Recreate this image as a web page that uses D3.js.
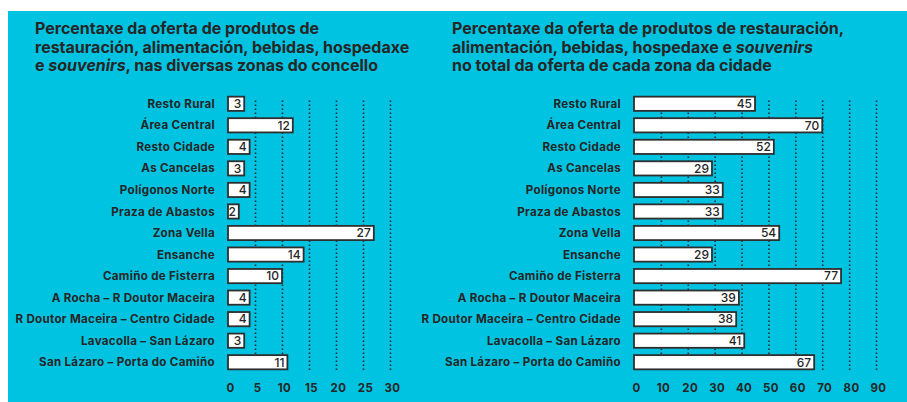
<!DOCTYPE html>
<html>
<head>
<meta charset="utf-8">
<script src="https://cdn.jsdelivr.net/npm/d3@7"></script>
<style>
  body { margin: 0; background: #fff; }
  svg text { font-family: Inter, "Open Sans", sans-serif; fill: #262626; }
</style>
</head>
<body>
<div class="chart"></div>
<script>
var width = 907,
    height = 402;

var zonas = ["Resto Rural", "Área Central", "Resto Cidade", "As Cancelas", "Polígonos Norte",
  "Praza de Abastos", "Zona Vella", "Ensanche", "Camiño de Fisterra", "A Rocha – R Doutor Maceira",
  "R Doutor Maceira – Centro Cidade", "Lavacolla – San Lázaro", "San Lázaro – Porta do Camiño"];

var ofertaConcello = [3, 12, 4, 3, 4, 2, 27, 14, 10, 4, 4, 3, 11];
var ofertaZona = [45, 70, 52, 29, 33, 33, 54, 29, 77, 39, 38, 41, 67];

var ticksConcello = [0, 5, 10, 15, 20, 25, 30];
var ticksZona = [0, 10, 20, 30, 40, 50, 60, 70, 80, 90];

var titleConcello = [
  [["Percentaxe da oferta de produtos de", false]],
  [["restauración, alimentación, bebidas, hospedaxe", false]],
  [["e ", false], ["souvenirs", true], [", nas diversas zonas do concello", false]]
];
var titleZona = [
  [["Percentaxe da oferta de produtos de restauración,", false]],
  [["alimentación, bebidas, hospedaxe e ", false], ["souvenirs", true]],
  [["no total da oferta de cada zona da cidade", false]]
];

var svg = d3.select(".chart")
    .append("svg")
    .attr("width", width)
    .attr("height", height);

svg.append("rect")
    .attr("x", 8)
    .attr("y", 11)
    .attr("width", width - 8)
    .attr("height", height - 11)
    .attr("fill", "#00c3e2");

var y = d3.scaleBand()
    .domain(zonas)
    .range([93, 373])
    .paddingInner(0.34)
    .paddingOuter(0.17);

function drawChart(opts) {
  var g = svg.append("g");

  var x = d3.scaleLinear()
      .domain([0, opts.max])
      .range([opts.x0, opts.x1]);

  // title
  var title = g.append("text")
      .attr("font-size", 16)
      .attr("font-weight", 700);
  opts.title.forEach(function (line, i) {
    line.forEach(function (part, j) {
      var t = title.append("tspan").text(part[0]);
      if (j == 0) t.attr("x", opts.titleX).attr("y", 34 + i * 18.5);
      if (part[1]) t.attr("font-style", "italic");
    });
  });

  // dotted grid
  g.append("g")
      .attr("transform", "translate(0,370)")
      .call(d3.axisBottom(x).tickValues(opts.ticks.slice(1)).tickSize(-271).tickFormat(""))
      .call(s => s.select(".domain").remove())
      .selectAll("line")
      .attr("stroke", "#1f2a30")
      .attr("stroke-width", 1.6)
      .attr("stroke-dasharray", "1.6,2.4");

  // tick labels
  g.append("g")
      .attr("transform", "translate(2,376)")
      .call(d3.axisBottom(x).tickValues(opts.ticks).tickSize(0).tickPadding(8))
      .call(s => s.select(".domain").remove())
      .selectAll("text")
      .attr("font-size", 11.5)
      .attr("font-weight", 700)
      .attr("letter-spacing", 0.4)
      .style("font-family", "Inter, sans-serif");

  // row labels
  g.selectAll(".lab")
      .data(zonas)
      .join("text")
      .attr("class", "lab")
      .attr("x", opts.labelX)
      .attr("y", d => y(d) + y.bandwidth() / 2)
      .attr("dy", "0.35em")
      .attr("text-anchor", "end")
      .attr("font-size", 11.6)
      .attr("font-weight", 700)
      .attr("letter-spacing", 0.3)
      .text(d => d);

  // bars
  g.selectAll(".bar")
      .data(opts.values)
      .join("rect")
      .attr("class", "bar")
      .attr("x", x(0))
      .attr("y", (d, i) => y(zonas[i]))
      .attr("width", d => x(d) - x(0))
      .attr("height", y.bandwidth())
      .attr("fill", "#fff")
      .attr("stroke", "#2e2e2e")
      .attr("stroke-width", 1.8);

  g.selectAll(".val")
      .data(opts.values)
      .join("text")
      .attr("class", "val")
      .attr("x", d => x(d) - 3)
      .attr("y", (d, i) => y(zonas[i]) + y.bandwidth() / 2)
      .attr("dy", "0.36em")
      .attr("text-anchor", "end")
      .attr("font-size", 12)
      .attr("font-weight", 500)
      .text(d => d);
}

drawChart({
  values: ofertaConcello, ticks: ticksConcello, max: 30,
  x0: 228, x1: 390, labelX: 215, titleX: 35, title: titleConcello
});

drawChart({
  values: ofertaZona, ticks: ticksZona, max: 90,
  x0: 634, x1: 876, labelX: 621, titleX: 452, title: titleZona
});
</script>
</body>
</html>
